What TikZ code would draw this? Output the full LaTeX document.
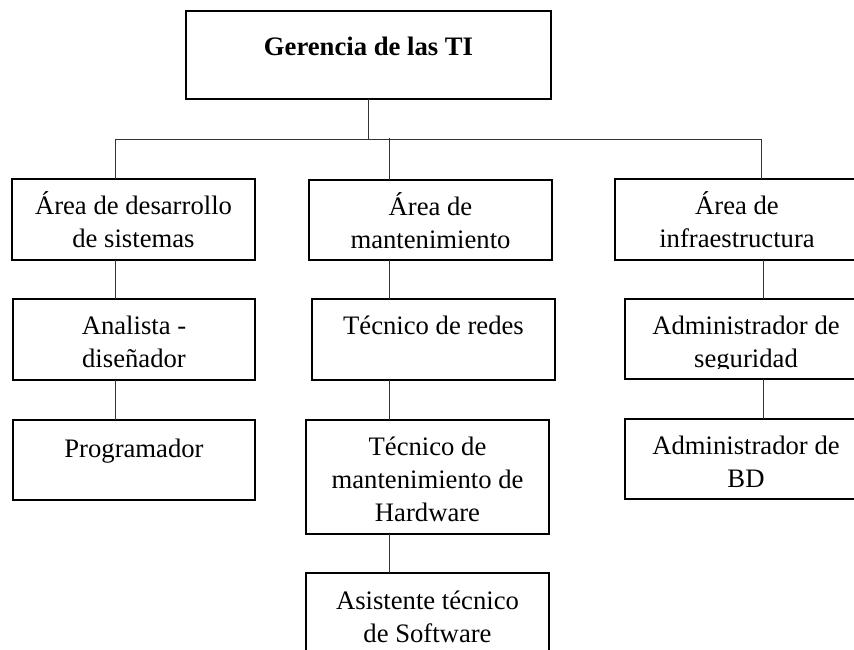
\documentclass[tikz,border=0pt]{standalone}
\usepackage{fontspec}
\setmainfont{Liberation Serif}
\begin{document}
\begin{tikzpicture}[x=1pt,y=-1pt,
  box/.style={draw=black, line width=1.4pt, rectangle, inner sep=0pt, outer sep=0pt, anchor=north west},
  conn/.style={draw=black!80, line width=0.8pt},
  txt/.style={anchor=north, inner sep=0pt, align=center, font=\fontsize{26.67}{33}\selectfont}]
\useasboundingbox (0,0) rectangle (854,649);
\clip (0,0) rectangle (854,649);

% boxes
\node[box, minimum width=365pt, minimum height=88pt] (top) at (186,11) {};
\node[box, minimum width=243pt, minimum height=81pt] (L2a) at (12,179) {};
\node[box, minimum width=243pt, minimum height=80pt] (L2b) at (309,180) {};
\node[box, minimum width=244pt, minimum height=81pt] (L2c) at (615,179) {};
\node[box, minimum width=242pt, minimum height=81pt] (A1) at (13,299) {};
\node[box, minimum width=242pt, minimum height=80pt] (A2) at (13,420) {};
\node[box, minimum width=243pt, minimum height=81pt] (B1) at (312,299) {};
\node[box, minimum width=243pt, minimum height=114pt] (B2) at (306,420) {};
\node[box, minimum width=243pt, minimum height=110pt] (B3) at (306,573) {};
\node[box, minimum width=242pt, minimum height=80pt] (C1) at (625,299) {};
\node[box, minimum width=242pt, minimum height=80pt] (C2) at (625,419) {};

% texts
\node[txt, font=\fontsize{26.67}{33}\selectfont\bfseries] (tTop) at ([yshift=-20.9pt]top.north) {\strut Gerencia de las TI};
\node[txt] (tL2a) at ([yshift=-11.9pt]L2a.north) {\strut Área de desarrollo\\de sistemas};
\node[txt] (tL2b) at ([yshift=-11.9pt]L2b.north) {\strut Área de\\mantenimiento};
\node[txt] (tL2c) at ([yshift=-11.9pt]L2c.north) {\strut Área de\\infraestructura};
\node[txt] (tA1) at ([yshift=-11.9pt]A1.north) {\strut Analista -\\diseñador};
\node[txt] (tA2) at ([yshift=-13.9pt]A2.north) {\strut Programador};
\node[txt] (tB1) at ([yshift=-11.9pt]B1.north) {\strut Técnico de redes};
\node[txt] (tB2) at ([yshift=-11.9pt]B2.north) {\strut Técnico de\\mantenimiento de\\Hardware};
\node[txt] (tB3) at ([yshift=-12.9pt]B3.north) {\strut Asistente técnico\\de Software};
\begin{scope}
  \clip (C1.north west) rectangle ([yshift=11pt]C1.south east);
  \node[txt] (tC1) at ([yshift=-11.9pt]C1.north) {\strut Administrador de\\seguridad};
\end{scope}
\node[txt] (tC2) at ([yshift=-11.9pt]C2.north) {\strut Administrador de\\BD};

% connectors
\coordinate (dA) at (115,139);
\coordinate (dB) at (389,139);
\coordinate (dC) at (761,139);
\coordinate (eC) at (763,139);
\draw[conn] (top.south) -- (top.south |- dA);
\draw[conn] (dA) -- (dC);
\draw[conn] (dA) -- (dA |- L2a.north);
\draw[conn] ([yshift=1pt]dB) -- (dB |- L2b.north);
\draw[conn] (dC) -- (dC |- L2c.north);
\draw[conn] (dA |- L2a.south) -- (dA |- A1.north);
\draw[conn] (dA |- A1.south) -- (dA |- A2.north);
\draw[conn] (dB |- L2b.south) -- (dB |- B1.north);
\draw[conn] (dB |- B1.south) -- (dB |- B2.north);
\draw[conn] (dB |- B2.south) -- (dB |- B3.north);
\draw[conn] (eC |- L2c.south) -- (eC |- C1.north);
\draw[conn] (eC |- C1.south) -- (eC |- C2.north);
\end{tikzpicture}
\end{document}
